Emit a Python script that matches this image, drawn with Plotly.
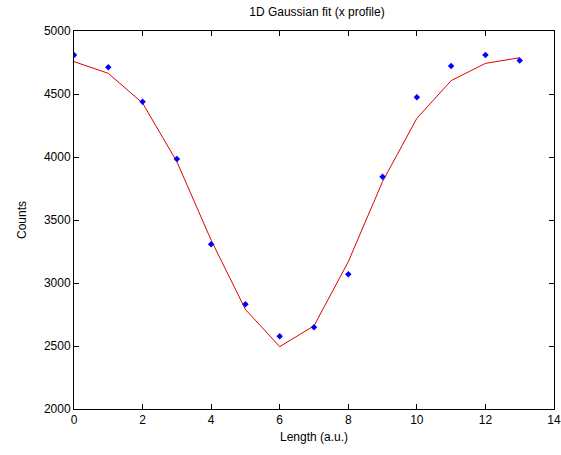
import plotly.graph_objects as go

x_data = [0, 1, 2, 3, 4, 5, 6, 7, 8, 9, 10, 11, 12, 13]
counts = [4810, 4712, 4439, 3984, 3307, 2831, 2577, 2648, 3069, 3844, 4474, 4722, 4810, 4765]
fit = [4757, 4664, 4428, 3963, 3340, 2790, 2495, 2660, 3169, 3805, 4307, 4606, 4743, 4788]

x_ticks = [0, 2, 4, 6, 8, 10, 12, 14]
y_ticks = [2000, 2500, 3000, 3500, 4000, 4500, 5000]

fig = go.Figure()
fig.add_trace(go.Scatter(x=x_data, y=fit, mode="lines",
                         line=dict(color="#e00000", width=1),
                         showlegend=False))
fig.add_trace(go.Scatter(x=x_data, y=counts, mode="markers",
                         marker=dict(color="#0000ff", size=5, symbol="diamond"),
                         showlegend=False))

axis_common = dict(showgrid=False, zeroline=False, showline=True, linecolor="#000000",
                   linewidth=1, mirror="ticks", ticks="inside", ticklen=5,
                   tickcolor="#000000", tickfont=dict(size=12, color="#000000"))

fig.update_layout(
    width=561, height=455, autosize=False,
    margin=dict(l=74, r=7, t=31, b=46, autoexpand=False),
    paper_bgcolor="white", plot_bgcolor="white",
    font=dict(family="Liberation Sans, Arial, sans-serif", color="#000000"),
    title=dict(text="1D Gaussian fit (x profile)", x=0.565, xanchor="center",
               y=0.975, yanchor="middle", font=dict(size=12, color="#000000")),
    xaxis=dict(range=[0, 14], tickvals=x_ticks, title=dict(text="Length (a.u.)", font=dict(size=12), standoff=6),
               automargin=False, **axis_common),
    yaxis=dict(range=[2000, 5000], tickvals=y_ticks, title=dict(text="Counts", font=dict(size=12), standoff=14),
               automargin=False, **axis_common),
)

fig.write_html("out.html",
               config={"displayModeBar": False, "responsive": False},
               post_script="document.body.style.margin='0';document.body.style.overflow='hidden';")
